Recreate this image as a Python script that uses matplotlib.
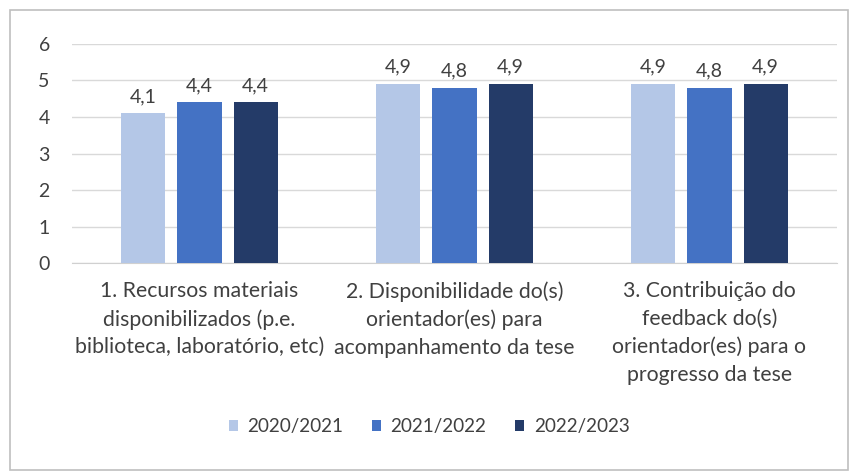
import matplotlib.pyplot as plt
import numpy as np
from matplotlib.patches import Rectangle

categories = [
    "1. Recursos materiais\ndisponibilizados (p.e.\nbiblioteca, laboratório, etc)",
    "2. Disponibilidade do(s)\norientador(es) para\nacompanhamento da tese",
    "3. Contribuição do\nfeedback do(s)\norientador(es) para o\nprogresso da tese",
]
series = ["2020/2021", "2021/2022", "2022/2023"]
values = [
    [4.1, 4.9, 4.9],
    [4.4, 4.8, 4.8],
    [4.4, 4.9, 4.9],
]
colors = ["#B4C7E7", "#4472C4", "#243B68"]
yticks = [0, 1, 2, 3, 4, 5, 6]

plt.rcParams["font.family"] = ["Lato", "DejaVu Sans"]
TEXT = "#404040"

fig = plt.figure(figsize=(8.58, 4.74), dpi=100)
ax = fig.add_axes([0.0839, 0.4451, 0.8916, 0.4621])

x = np.arange(len(categories))
width = 0.173
step = 0.22
for i, (name, vals) in enumerate(zip(series, values)):
    pos = x + (i - 1) * step
    bars = ax.bar(pos, vals, width, color=colors[i], label=name, zorder=3)
    for b, v in zip(bars, vals):
        ax.annotate(f"{v:.1f}".replace(".", ","),
                    (b.get_x() + b.get_width() / 2, v),
                    xytext=(0, 6), textcoords="offset points",
                    ha="center", va="bottom", fontsize=14, color=TEXT)

ax.set_xlim(-0.5, 2.5)
ax.set_ylim(0, 6)
ax.set_yticks(yticks)
ax.yaxis.grid(True, color="#D9D9D9", linewidth=1, zorder=0)
for s in ["top", "right", "left"]:
    ax.spines[s].set_visible(False)
ax.spines["bottom"].set_color("#D0D0D0")
ax.tick_params(axis="both", length=0, colors=TEXT, labelsize=14)
ax.tick_params(axis="y", pad=16)
ax.tick_params(axis="x", pad=13)
ax.set_xticks(x)
ax.set_xticklabels(categories, fontsize=15.3, linespacing=1.48)

leg = fig.legend(loc="center", bbox_to_anchor=(0.5, 0.1), ncol=3, frameon=False,
                 fontsize=13.6, handlelength=0.5, handleheight=0.5, handletextpad=0.5,
                 columnspacing=1.5)
for t in leg.get_texts():
    t.set_color(TEXT)

fig.patches.append(Rectangle((10 / 858, 4 / 474), 838 / 858, 460 / 474,
                             transform=fig.transFigure, fill=False,
                             edgecolor="#BFBFBF", linewidth=1.2))

fig.savefig("out.png", dpi=100)
